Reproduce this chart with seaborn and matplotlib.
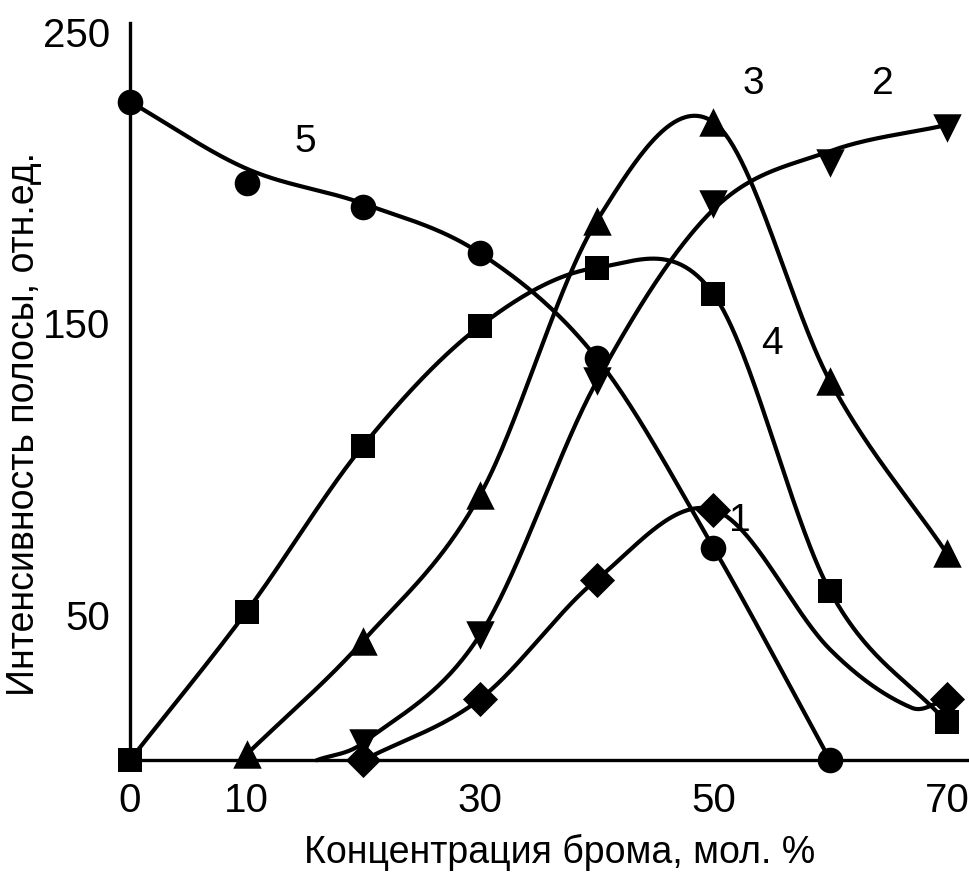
import numpy as np
import pandas as pd
import seaborn as sns
import matplotlib.pyplot as plt

# Marker data (concentration, intensity)
x1 = [20, 30, 40, 50, 70]
y1 = [0, 21, 62, 86, 21]

x2 = [20, 30, 40, 50, 60, 70]
y2 = [6, 43, 130, 191, 205, 217]

x3 = [10, 20, 30, 40, 50, 60, 70]
y3 = [2, 41, 91, 185, 219, 130, 71]

x4 = [0, 10, 20, 30, 40, 50, 60, 70]
y4 = [0, 51, 108, 149, 169, 160, 58, 13]

x5 = [0, 10, 20, 30, 40, 50, 60]
y5 = [226, 198, 190, 174, 138, 73, 0]

# knots of the drawn curves
line1_x = [20, 30, 40, 50, 60, 67, 70]
line1_y = [0, 21, 62, 86, 38, 18, 21]
line2_x = [16, 20, 30, 40, 50, 60, 70]
line2_y = [0, 6, 43, 130, 189, 209, 218]
line5_x = [0, 10, 20, 30, 40, 50, 60]
line5_y = [226, 203, 191, 174, 138, 73, 0]

curve_labels = ["1", "2", "3", "4", "5"]
label_x = [52.3, 64.5, 53.4, 55.0, 15.0]
label_y = [82, 232, 232, 143, 212]

x_ticks = [0, 10, 20, 30, 40, 50, 60, 70]
x_ticklabels = ["0", "10", "", "30", "", "50", "", "70"]
y_ticks = [50, 100, 150, 200, 250]
y_ticklabels = ["50", "", "150", "", "250"]


def smooth(xs, ys, n=60):
    # cubic hermite curve through the knots, for drawing only
    xs = np.asarray(xs, float)
    ys = np.asarray(ys, float)
    m = np.zeros_like(ys)
    m[1:-1] = (ys[2:] - ys[:-2]) / (xs[2:] - xs[:-2])
    m[0] = (ys[1] - ys[0]) / (xs[1] - xs[0])
    m[-1] = (ys[-1] - ys[-2]) / (xs[-1] - xs[-2])
    px, py = [], []
    for i in range(len(xs) - 1):
        h = xs[i + 1] - xs[i]
        t = np.linspace(0, 1, n)
        h00 = 2 * t**3 - 3 * t**2 + 1
        h10 = t**3 - 2 * t**2 + t
        h01 = -2 * t**3 + 3 * t**2
        h11 = t**3 - t**2
        px.extend(xs[i] + t * h)
        py.extend(h00 * ys[i] + h10 * h * m[i] + h01 * ys[i + 1] + h11 * h * m[i + 1])
    return pd.DataFrame({"x": px, "y": py})


sns.set_style("white")
plt.rcParams["font.family"] = ["Liberation Sans", "DejaVu Sans"]
plt.rcParams["text.color"] = "black"

fig = plt.figure(figsize=(9.69, 8.83), dpi=100)
ax = fig.add_axes([0.134, 0.139, 0.866, 0.835])

lines = [(line1_x, line1_y), (line2_x, line2_y), (x3, y3), (x4, y4), (line5_x, line5_y)]
for lx, ly in lines:
    sns.lineplot(data=smooth(lx, ly), x="x", y="y", sort=False, color="black",
                 linewidth=3.0, ax=ax, clip_on=False)

markers = [(x1, y1, "D", 320), (x2, y2, "v", 420), (x3, y3, "^", 420),
           (x4, y4, "s", 300), (x5, y5, "o", 340)]
for mx, my, mk, sz in markers:
    sns.scatterplot(x=mx, y=my, marker=mk, s=sz, color="black", edgecolor="black",
                    linewidth=0, ax=ax, clip_on=False, zorder=5, legend=False)

for t, tx, ty in zip(curve_labels, label_x, label_y):
    ax.text(tx, ty, t, fontsize=28, ha="center", va="center", color="black")

ax.set_xlim(0, 71.9)
ax.set_ylim(0, 253)
ax.set_xticks(x_ticks)
ax.set_xticklabels(x_ticklabels)
ax.set_yticks(y_ticks)
ax.set_yticklabels(y_ticklabels)
ax.tick_params(direction="in", length=11, width=2.2, labelsize=29, pad=16,
               colors="black", labelcolor="black")
ax.tick_params(axis="y", pad=14)

for side in ["top", "right"]:
    ax.spines[side].set_visible(False)
for side in ["left", "bottom"]:
    ax.spines[side].set_linewidth(2.4)
    ax.spines[side].set_color("black")

ax.set_xlabel("Концентрация брома, мол. %", fontsize=27, labelpad=10, color="black")
ax.set_ylabel("Интенсивность полосы, отн.ед.", fontsize=27, labelpad=1, color="black")
ax.xaxis.label.set_x(0.5125)
ax.yaxis.label.set_y(0.456)

plt.savefig("out.png", dpi=100)
